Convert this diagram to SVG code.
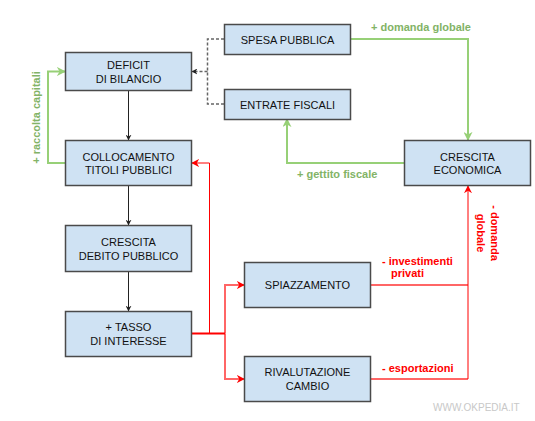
<svg xmlns="http://www.w3.org/2000/svg" width="535" height="421" viewBox="0 0 535 421">
<style>
.node rect{fill:#cfe2f3;stroke:#4a4a4a;stroke-width:1.5}
.node text{font-family:"Liberation Sans",Arial,sans-serif;font-size:11px;fill:#111;text-anchor:middle}
.c{fill:none}
.blk{stroke:#222;stroke-width:1}
.dash{stroke:#666;stroke-width:1.5;stroke-dasharray:3,2}
.grn{stroke:#97d077;stroke-width:2}
.red{stroke:#ff0000;stroke-width:1}
.red2{stroke:#ff6666;stroke-width:2}
.gl{font-family:"Liberation Sans",Arial,sans-serif;font-size:11px;font-weight:bold;fill:#82b366}
.rl{font-family:"Liberation Sans",Arial,sans-serif;font-size:11px;font-weight:bold;fill:#ff0000}
</style>
<defs>
<marker id="ab" viewBox="0 0 10 10" refX="9" refY="5" markerWidth="6" markerHeight="6" markerUnits="userSpaceOnUse" orient="auto"><path d="M0,0 L10,5 L0,10 L3,5 z" fill="#222"/></marker>
<marker id="ag" viewBox="0 0 10 10" refX="9" refY="5" markerWidth="9" markerHeight="9" markerUnits="userSpaceOnUse" orient="auto"><path d="M0,0 L10,5 L0,10 L3,5 z" fill="#97d077"/></marker>
<marker id="ar" viewBox="0 0 10 10" refX="9" refY="5" markerWidth="8" markerHeight="8" markerUnits="userSpaceOnUse" orient="auto"><path d="M0,0 L10,5 L0,10 L3,5 z" fill="#ff0000"/></marker>
</defs>
<rect width="535" height="421" fill="#fff"/>
<g id="connectors">
<path class="c dash" d="M224,39 H207.5 V104 H224"/>
<path class="c dash" d="M207.5,71.5 H192" marker-end="url(#ab)"/>
<path class="c blk" d="M128.5,91 V140" marker-end="url(#ab)"/>
<path class="c blk" d="M128.5,186 V225" marker-end="url(#ab)"/>
<path class="c blk" d="M128.5,271 V311" marker-end="url(#ab)"/>
<path class="c grn" d="M65,163 H48 V71.5 H65" marker-end="url(#ag)"/>
<path class="c grn" d="M350,39 H468 V140" marker-end="url(#ag)"/>
<path class="c grn" d="M404,163 H287 V119" marker-end="url(#ag)"/>
<path class="c red" d="M209.5,333.5 V163 H192" marker-end="url(#ar)"/>
<path class="c red2" d="M225,333.5 V285 H244" marker-end="url(#ar)"/>
<path class="c red2" d="M225,333.5 V379 H244" marker-end="url(#ar)"/>
<path class="c" stroke="#ff0000" stroke-width="2" d="M192,333.5 H225"/>
<path class="c red2" d="M370,285 H468"/>
<path class="c red2" d="M370,379 H468"/>
<path class="c red" d="M468,379 V186" marker-end="url(#ar)"/>
<text class="gl" x="371" y="30.5">+ domanda globale</text>
<text class="gl" x="297" y="178">+ gettito fiscale</text>
<text class="gl" transform="translate(40,117.5) rotate(-90)" text-anchor="middle">+ raccolta capitali</text>
<text class="rl" x="382" y="264.5">- investimenti</text>
<text class="rl" x="391" y="277">privati</text>
<text class="rl" x="382" y="371.5">- esportazioni</text>
<text class="rl" transform="translate(491,233) rotate(90)" text-anchor="middle">- domanda</text>
<text class="rl" transform="translate(477,233) rotate(90)" text-anchor="middle">globale</text>
</g>
<g id="deficit" class="node"><rect x="65.5" y="52.5" width="126" height="38"/><text x="128.5" y="68.5">DEFICIT</text><text x="128.5" y="82.5">DI BILANCIO</text></g>
<g id="collocamento" class="node"><rect x="65.5" y="140.5" width="126" height="45"/><text x="128.5" y="160.5">COLLOCAMENTO</text><text x="128.5" y="174">TITOLI PUBBLICI</text></g>
<g id="debito" class="node"><rect x="65.5" y="225.5" width="126" height="46"/><text x="128.5" y="246">CRESCITA</text><text x="128.5" y="259.5">DEBITO PUBBLICO</text></g>
<g id="tasso" class="node"><rect x="65.5" y="311.5" width="126" height="45"/><text x="128.5" y="331">+ TASSO</text><text x="128.5" y="344.5">DI INTERESSE</text></g>
<g id="spesa" class="node"><rect x="224.5" y="24.5" width="126" height="30"/><text x="287.5" y="44">SPESA PUBBLICA</text></g>
<g id="entrate" class="node"><rect x="224.5" y="89.5" width="126" height="30"/><text x="287.5" y="108.5">ENTRATE FISCALI</text></g>
<g id="crescita" class="node"><rect x="404.5" y="140.5" width="126" height="45"/><text x="467.5" y="160.5">CRESCITA</text><text x="467.5" y="174">ECONOMICA</text></g>
<g id="spiazzamento" class="node"><rect x="244.5" y="262.5" width="126" height="45"/><text x="307.5" y="289">SPIAZZAMENTO</text></g>
<g id="rivalutazione" class="node"><rect x="244.5" y="356.5" width="126" height="45"/><text x="307.5" y="376">RIVALUTAZIONE</text><text x="307.5" y="389.5">CAMBIO</text></g>
<text x="433" y="411" font-family="'Liberation Sans',Arial,sans-serif" font-size="10" fill="#c8c8c8">WWW.OKPEDIA.IT</text>
</svg>
